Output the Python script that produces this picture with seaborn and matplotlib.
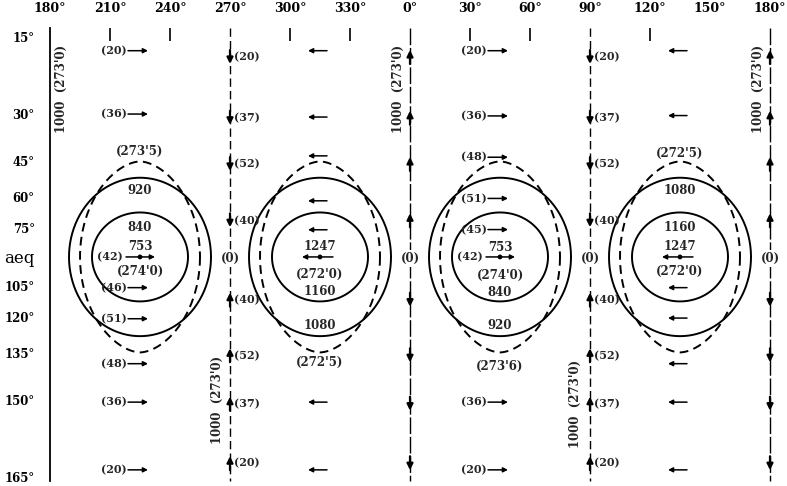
import numpy as np
import pandas as pd
import matplotlib
matplotlib.use("Agg")
import matplotlib.pyplot as plt
import matplotlib.transforms as mtransforms
import seaborn as sns

# longitude is unrolled: 180 .. 360 (= 0) .. 540 (= 180 again)
lon_ticks = [180, 210, 240, 270, 300, 330, 360, 390, 420, 450, 480, 510, 540]
lon_labels = ["180°", "210°", "240°", "270°", "300°", "330°", "0°",
              "30°", "60°", "90°", "120°", "150°", "180°"]
colat_ticks = [15, 30, 45, 60, 75, 90, 105, 120, 135, 150, 165]
colat_labels = ["15°", "30°", "45°", "60°", "75°", "aeq",
                "105°", "120°", "135°", "150°", "165°"]

# meridians with north-south flow (+1: flow points south in the northern half)
merid_lon = [270, 360, 450, 540]
merid_dir = [1, -1, 1, -1]
merid_labelled = [True, False, True, False]
merid_rows = [18, 31, 46, 71, 112, 136, 151, 163]
merid_vals = ["(20)", "(37)", "(52)", "(40)", "(40)", "(52)", "(37)", "(20)"]

# rotated side notes along the meridians
note_text = "1000  (273'0)"
note_lon = [185.5, 263.5, 354, 442.5, 534]
note_colat = [24, 150, 24, 151, 24]

# cell centres and zonal flow (+1 east, -1 west)
cell_lon = [225, 315, 405, 495]
cell_dir = [1, -1, 1, -1]
cell_rows = [
    [17, 30, 106, 121, 139, 150.6, 164],
    [17, 30.8, 43, 61.6, 75.8, 150.6, 164],
    [17, 30.5, 43.5, 60.5, 75.7, 150.6, 164],
    [17, 30.4, 106, 120.7, 139, 150.6, 164],
]
cell_vals = [
    ["(20)", "(36)", "(46)", "(51)", "(48)", "(36)", "(20)"],
    None,
    ["(20)", "(36)", "(48)", "(51)", "(45)", "(36)", "(20)"],
    None,
]
centre_vals = ["(42)", None, "(42)", None]

# contour labels inside each cell
cont_text = [
    ["(273'5)", "920", "840", "753", "(274'0)"],
    ["1247", "(272'0)", "1160", "1080", "(272'5)"],
    ["753", "(274'0)", "840", "920", "(273'6)"],
    ["(272'5)", "1080", "1160", "1247", "(272'0)"],
]
cont_colat = [
    [41.6, 57.1, 74.4, 84.7, 97.9],
    [84.7, 99, 107.7, 124.2, 138.4],
    [85.2, 99.5, 108.2, 124.2, 139.8],
    [42.3, 57.1, 74.4, 84.7, 97.9],
]


def to_merc(colat):
    # mercator ordinate, growing southwards so that the scale is increasing
    lat = np.radians(90 - np.asarray(colat, dtype=float))
    return -np.log(np.tan(np.pi / 4 + lat / 2))


def from_merc(m):
    lat = 2 * np.arctan(np.exp(-np.asarray(m, dtype=float))) - np.pi / 2
    return 90 - np.degrees(lat)


sns.set_style("white")
plt.rcParams["font.family"] = ["DejaVu Serif"]
plt.rcParams["font.weight"] = "bold"

fig = plt.figure(figsize=(7.87, 4.86), dpi=100)
ax = fig.add_axes([50 / 787, 1 - 481 / 486, 720 / 787, 453 / 486])
ax.set_yscale("function", functions=(to_merc, from_merc))

top, bottom = float(from_merc(-2.11)), float(from_merc(2.065))

# meridian lines
styles = [(0, (6, 3)), (0, (12, 2)), (0, (6, 3)), (0, (12, 2))]
for lon, ls in zip(merid_lon, styles):
    df = pd.DataFrame({"lon": [lon, lon], "colat": [top, bottom]})
    sns.lineplot(data=df, x="lon", y="colat", estimator=None, sort=False,
                 color="black", lw=1.0, linestyle=ls, ax=ax, clip_on=False)

k = dict(arrowstyle="-|>", color="black", lw=1.6, mutation_scale=9,
         shrinkA=0, shrinkB=0)
for lon, d, lab in zip(merid_lon, merid_dir, merid_labelled):
    for r, v in zip(merid_rows, merid_vals):
        s = d if r < 90 else -d  # +1 means arrow points down on the page
        head = mtransforms.offset_copy(ax.transData, fig=fig, x=0, y=-5 * s, units="points")
        ax.annotate("", xy=(lon, r), xycoords=head, xytext=(0, 10 * s),
                    textcoords="offset points", arrowprops=k, annotation_clip=False)
        if lab:
            ax.annotate(v, xy=(lon, r), xytext=(3, 0), textcoords="offset points",
                        ha="left", va="center", fontsize=8)
    ax.text(lon, 91, "(0)", ha="center", va="center", fontsize=8.5,
            bbox=dict(facecolor="white", edgecolor="none", pad=1.5))

for x, c in zip(note_lon, note_colat):
    ax.text(x, c, note_text, rotation=90, ha="center", va="center", fontsize=8.5)

# cells: contours, zonal arrows and labels
ka = dict(arrowstyle="-|>", color="black", lw=1.1, mutation_scale=7,
          shrinkA=0, shrinkB=0)
t = np.linspace(0, 2 * np.pi, 400)
for i, c in enumerate(cell_lon):
    d = cell_dir[i]
    for a, b, p, ls in [(24, 0.41, 1.0, "-"), (35.5, 0.73, 1.0, "-"),
                        (30, 0.88, 1.15, (0, (4.5, 2.8)))]:
        xs = c + a * np.sign(np.cos(t)) * np.abs(np.cos(t)) ** p
        ys = from_merc(b * np.sin(t))
        ax.plot(xs, ys, color="black", lw=1.4, linestyle=ls)

    for j, r in enumerate(cell_rows[i]):
        x0, x1 = (c - 6, c + 4) if d > 0 else (c + 3.5, c - 6)
        ax.annotate("", xy=(x1, r), xytext=(x0, r), arrowprops=ka)
        if cell_vals[i] is not None:
            ax.text(c - 6.5, r, cell_vals[i][j], ha="right", va="center", fontsize=8)

    x0, x1 = (c - 7, c + 7.5) if d > 0 else (c + 6.5, c - 9)
    ax.annotate("", xy=(x1, 90), xytext=(x0, 90), arrowprops=ka)
    if centre_vals[i] is not None:
        ax.text(c - 8.5, 90, centre_vals[i], ha="right", va="center", fontsize=8)

    for txt, r in zip(cont_text[i], cont_colat[i]):
        ax.text(c, r, txt, ha="center", va="center", fontsize=8.5)

sns.scatterplot(x=cell_lon, y=[90] * 4, color="black", s=12, ax=ax,
                zorder=5, edgecolor="none")

ax.set_xlim(180, 540)
ax.set_ylim(bottom, top)
ax.set_xlabel("")
ax.set_ylabel("")

ax.set_xticks(lon_ticks)
ax.set_xticklabels(lon_labels, fontsize=9)
ax.xaxis.tick_top()
ax.tick_params(axis="x", direction="in", length=9, width=1.2, pad=9, colors="black")
for tk, lon in zip(ax.xaxis.get_major_ticks(), lon_ticks):
    if lon in (180, 270, 360, 450, 510, 540):
        tk.tick2line.set_visible(False)

ax.set_yticks(colat_ticks)
ax.set_yticklabels(colat_labels, fontsize=8.5)
ax.tick_params(axis="y", direction="out", length=9, width=1.2, pad=2, colors="black")
ax.get_yticklabels()[5].set_fontsize(12)
ax.get_yticklabels()[5].set_fontweight("normal")

for side in ["top", "right", "bottom"]:
    ax.spines[side].set_visible(False)
ax.spines["left"].set_linewidth(1.3)
ax.spines["left"].set_color("black")

fig.savefig("out.png", dpi=100)
